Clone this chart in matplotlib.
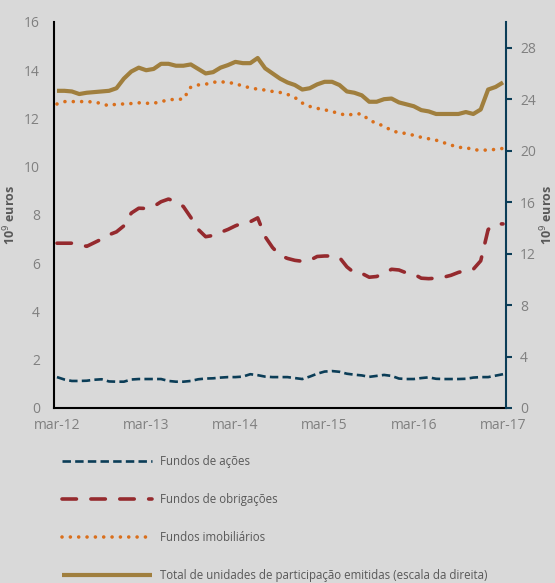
import numpy as np
import matplotlib.pyplot as plt

plt.rcParams['font.family'] = ['Open Sans', 'DejaVu Sans']

# monthly observations, mar-12 .. mar-17
x_labels = ["mar-12", "mar-13", "mar-14", "mar-15", "mar-16", "mar-17"]

fundos_acoes = [
    1.28, 1.18, 1.12, 1.12, 1.13, 1.17, 1.19, 1.10, 1.09, 1.09, 1.18, 1.20,
    1.20, 1.20, 1.20, 1.12, 1.09, 1.09, 1.12, 1.19, 1.22, 1.23, 1.26, 1.28,
    1.28, 1.30, 1.40, 1.36, 1.30, 1.28, 1.28, 1.28, 1.24, 1.20, 1.30, 1.42,
    1.51, 1.53, 1.50, 1.42, 1.38, 1.35, 1.29, 1.33, 1.37, 1.33, 1.22, 1.20,
    1.20, 1.24, 1.27, 1.21, 1.20, 1.20, 1.20, 1.21, 1.26, 1.28, 1.28, 1.34,
    1.40]

fundos_obrigacoes = [
    6.83, 6.83, 6.83, 6.78, 6.70, 6.85, 7.00, 7.18, 7.30, 7.55, 8.08, 8.28,
    8.27, 8.35, 8.55, 8.66, 8.55, 8.35, 7.90, 7.40, 7.10, 7.15, 7.28, 7.40,
    7.55, 7.67, 7.72, 7.88, 7.10, 6.65, 6.33, 6.20, 6.12, 6.08, 6.12, 6.28,
    6.30, 6.30, 6.24, 5.85, 5.60, 5.58, 5.42, 5.45, 5.58, 5.75, 5.72, 5.60,
    5.55, 5.38, 5.36, 5.38, 5.42, 5.50, 5.62, 5.70, 5.75, 6.10, 7.40, 7.63,
    7.63]

fundos_imobiliarios = [
    12.60, 12.70, 12.70, 12.70, 12.70, 12.68, 12.62, 12.52, 12.60, 12.60, 12.62, 12.65,
    12.63, 12.63, 12.70, 12.77, 12.80, 12.80, 13.30, 13.39, 13.42, 13.50, 13.53, 13.48,
    13.46, 13.33, 13.28, 13.21, 13.18, 13.12, 13.08, 13.00, 12.87, 12.64, 12.50, 12.42,
    12.36, 12.29, 12.20, 12.13, 12.19, 12.19, 11.93, 11.80, 11.68, 11.50, 11.41, 11.38,
    11.30, 11.22, 11.16, 11.10, 11.00, 10.90, 10.80, 10.80, 10.70, 10.69, 10.69, 10.72,
    10.76]

total_up = [
    24.65, 24.65, 24.60, 24.40, 24.50, 24.55, 24.60, 24.65, 24.85, 25.60, 26.15, 26.45,
    26.25, 26.35, 26.75, 26.75, 26.60, 26.60, 26.70, 26.35, 26.00, 26.10, 26.45, 26.65,
    26.90, 26.80, 26.80, 27.20, 26.40, 26.00, 25.60, 25.30, 25.10, 24.75, 24.85, 25.15,
    25.35, 25.35, 25.10, 24.60, 24.50, 24.30, 23.80, 23.80, 24.00, 24.05, 23.75, 23.60,
    23.45, 23.15, 23.05, 22.85, 22.85, 22.85, 22.85, 23.00, 22.85, 23.20, 24.75, 24.95,
    25.30]

bg = "#d9d9d9"
grey = "#808080"
navy = "#0b3d57"

fig = plt.figure(figsize=(5.55, 5.83), dpi=100, facecolor=bg)
ax = fig.add_axes([0.0973, 0.3002, 0.8144, 0.6621], facecolor=bg)
ax2 = ax.twinx()

m = np.arange(len(total_up))

l1, = ax.plot(m, fundos_acoes, color=navy, lw=1.9, dashes=(3.2, 1.6),
              label="Fundos de ações")
l2, = ax.plot(m, fundos_obrigacoes, color="#952a2e", lw=2.6, dashes=(4.0, 4.0),
              dash_capstyle="round", label="Fundos de obrigações")
l3, = ax.plot(m, fundos_imobiliarios, color="#d96f1c", lw=2.6, dashes=(0.01, 2.3),
              dash_capstyle="round", label="Fundos imobiliários")
l4, = ax2.plot(m, total_up, color="#a07f3e", lw=3.0, solid_capstyle="butt",
               label="Total de unidades de participação emitidas (escala da direita)")

ax.set_xlim(-0.4, 60.4)
ax.set_ylim(0, 16)
ax2.set_ylim(0, 30)
ax.set_yticks(range(0, 17, 2))
ax2.set_yticks(range(0, 29, 4))
ax.set_xticks(range(0, 61, 12))
ax.set_xticklabels(x_labels)

for s in ["top", "right"]:
    ax.spines[s].set_visible(False)
for s in ["top", "left", "bottom"]:
    ax2.spines[s].set_visible(False)
ax.spines["left"].set_color("black")
ax.spines["left"].set_linewidth(1.5)
ax.spines["bottom"].set_color("black")
ax.spines["bottom"].set_linewidth(1.5)
ax2.spines["right"].set_color(navy)
ax2.spines["right"].set_linewidth(1.5)

ax.tick_params(axis="y", length=0, pad=10, labelsize=10, labelcolor=grey)
ax.tick_params(axis="x", length=0, pad=7, labelsize=10, labelcolor=grey)
ax2.tick_params(axis="y", length=4, width=1.5, color=navy, pad=6,
                labelsize=10, labelcolor=grey)

ax.set_ylabel("10$^9$ euros", fontsize=9, fontweight="bold", color="#595959")
ax.yaxis.set_label_coords(-0.080, 0.5)
ax2.set_ylabel("10$^9$ euros", fontsize=9, fontweight="bold", color="#595959",
               rotation=90)
ax2.yaxis.set_label_coords(1.072, 0.5)

leg = fig.legend(handles=[l1, l2, l3, l4], loc="upper left",
                 bbox_to_anchor=(0.104, 0.227), frameon=False, fontsize=8.3,
                 handlelength=7.8, handletextpad=0.65, labelspacing=2.15,
                 borderaxespad=0)
for t in leg.get_texts():
    t.set_color("#595959")

fig.savefig("out.png", dpi=100, facecolor=bg)
